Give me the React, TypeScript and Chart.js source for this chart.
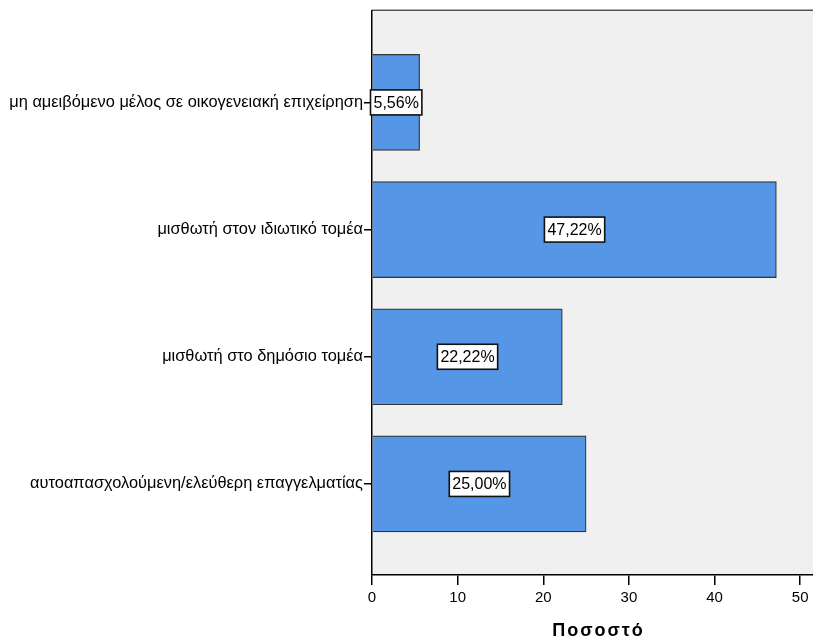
import React, { useEffect, useRef } from "react";
import { Chart, registerables } from "chart.js";

Chart.register(...registerables);

const categories = [
  "μη αμειβόμενο μέλος σε οικογενειακή επιχείρηση",
  "μισθωτή στον ιδιωτικό τομέα",
  "μισθωτή στο δημόσιο τομέα",
  "αυτοαπασχολούμενη/ελεύθερη επαγγελματίας",
];
const percentages = [5.56, 47.22, 22.22, 25.0];
const xTicks = [0, 10, 20, 30, 40, 50];
const xTitle = "Ποσοστό";

const FONT = "'Liberation Sans', Arial, sans-serif";

const bgPlugin = {
  id: "bgPlugin",
  beforeDraw(chart: any) {
    const { ctx, chartArea } = chart;
    ctx.save();
    ctx.fillStyle = "#f0f0f0";
    ctx.fillRect(chartArea.left, chartArea.top, chartArea.right - chartArea.left, chartArea.bottom - chartArea.top);
    ctx.strokeStyle = "#555555";
    ctx.lineWidth = 1.5;
    ctx.beginPath();
    ctx.moveTo(chartArea.left, chartArea.top - 0.5);
    ctx.lineTo(chartArea.right, chartArea.top - 0.5);
    ctx.stroke();
    ctx.restore();
  },
};

const labelPlugin = {
  id: "labelPlugin",
  afterDatasetsDraw(chart: any) {
    const { ctx } = chart;
    const meta = chart.getDatasetMeta(0);
    ctx.save();
    ctx.font = `16px ${FONT}`;
    ctx.textAlign = "center";
    ctx.textBaseline = "middle";
    meta.data.forEach((bar: any, i: number) => {
      const v = percentages[i];
      const text = v.toFixed(2).replace(".", ",") + "%";
      const cx = (bar.x + bar.base) / 2;
      const cy = bar.y;
      const w = ctx.measureText(text).width + 6;
      const h = 25;
      ctx.fillStyle = "#ffffff";
      ctx.fillRect(cx - w / 2, cy - h / 2, w, h);
      ctx.strokeStyle = "#111111";
      ctx.lineWidth = 1.6;
      ctx.strokeRect(cx - w / 2, cy - h / 2, w, h);
      ctx.fillStyle = "#000000";
      ctx.fillText(text, cx, cy + 1);
    });
    ctx.restore();
  },
};

const titlePlugin = {
  id: "titlePlugin",
  afterDraw(chart: any) {
    const { ctx, chartArea } = chart;
    ctx.save();
    ctx.font = `bold 18px ${FONT}`;
    (ctx as any).letterSpacing = "2px";
    ctx.textAlign = "center";
    ctx.textBaseline = "alphabetic";
    ctx.fillStyle = "#000000";
    ctx.fillText(xTitle, (chartArea.left + chartArea.right) / 2 + 6, 636);
    ctx.restore();
  },
};

export default function App() {
  const ref = useRef<HTMLCanvasElement>(null);

  useEffect(() => {
    if (!ref.current) return;
    const chart = new Chart(ref.current, {
      type: "bar",
      data: {
        datasets: [
          {
            data: percentages.map((v, i) => ({ x: v, y: i })),
            backgroundColor: "#5596e6",
            borderColor: "#333333",
            borderWidth: 1.2,
            barThickness: 96,
          },
        ],
      },
      options: {
        indexAxis: "y",
        animation: false,
        responsive: false,
        maintainAspectRatio: false,
        layout: { padding: { top: 8, right: 0, left: 0, bottom: 0 } },
        plugins: {
          legend: { display: false },
          tooltip: { enabled: false },
        },
        scales: {
          x: {
            type: "linear",
            min: 0,
            max: 51.5,
            afterBuildTicks: (scale: any) => {
              scale.ticks = xTicks.map((v) => ({ value: v }));
            },
            afterFit: (scale: any) => {
              scale.height = 67;
            },
            grid: {
              display: true,
              drawOnChartArea: false,
              drawTicks: true,
              tickLength: 10,
              color: "#000000",
              lineWidth: 1.5,
            },
            border: { display: true, color: "#000000", width: 1.5 },
            ticks: {
              color: "#000000",
              font: { family: FONT, size: 15 },
              padding: 4,
              maxRotation: 0,
            },
            title: { display: false },
          },
          y: {
            type: "linear",
            reverse: true,
            offset: false,
            min: -0.72,
            max: 3.716,
            afterBuildTicks: (scale: any) => {
              scale.ticks = categories.map((_, i) => ({ value: i }));
            },
            afterFit: (scale: any) => {
              scale.width = 372;
            },
            grid: {
              display: true,
              offset: false,
              drawOnChartArea: false,
              drawTicks: true,
              tickLength: 8,
              color: "#000000",
              lineWidth: 1.5,
            },
            border: { display: true, color: "#000000", width: 1.5 },
            ticks: {
              color: "#000000",
              font: { family: FONT, size: 16.4 },
              padding: 1,
              callback: (v: any) => categories[v as number] ?? "",
            },
          },
        },
      },
      plugins: [bgPlugin, labelPlugin, titlePlugin],
    });
    return () => chart.destroy();
  }, []);

  return (
    <div style={{ position: "fixed", left: 0, top: 0, width: 813, height: 642, background: "#ffffff" }}>
      <canvas ref={ref} width={813} height={642} style={{ display: "block" }} />
    </div>
  );
}
